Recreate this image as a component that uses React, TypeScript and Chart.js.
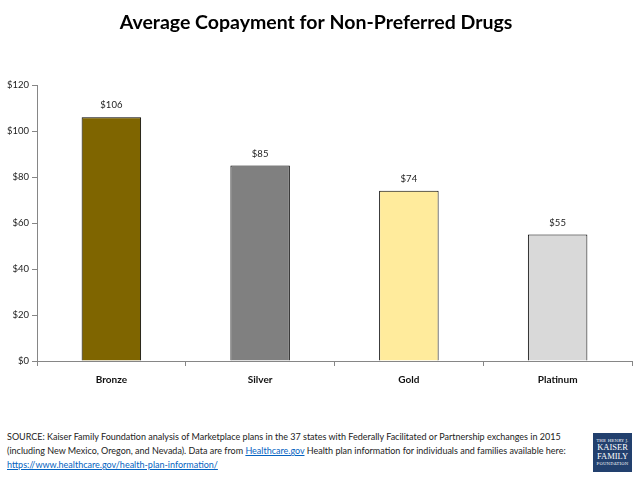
import React, { useEffect, useRef } from "react";
import { Chart, registerables } from "chart.js";

Chart.register(...registerables);

const categories = ["Bronze", "Silver", "Gold", "Platinum"];
const copayValues = [106, 85, 74, 55];
const barColors = ["#7F6500", "#808080", "#FFEB9C", "#D9D9D9"];
const yTicks = [0, 20, 40, 60, 80, 100, 120];
const titleText = "Average Copayment for Non-Preferred Drugs";

const FONT = "Lato, 'Open Sans', sans-serif";

const valueLabels = {
  id: "valueLabels",
  afterDatasetsDraw(chart: any) {
    const ctx = chart.ctx;
    const meta = chart.getDatasetMeta(0);
    ctx.save();
    ctx.font = `9.5px ${FONT}`;
    ctx.fillStyle = "#222";
    ctx.textAlign = "center";
    ctx.textBaseline = "middle";
    meta.data.forEach((bar: any, i: number) => {
      ctx.fillText("$" + copayValues[i], bar.x, bar.y - 12);
    });
    ctx.restore();
  },
};

export default function App() {
  const ref = useRef<HTMLCanvasElement | null>(null);
  useEffect(() => {
    if (!ref.current) return;
    const chart = new Chart(ref.current, {
      type: "bar",
      data: {
        labels: categories,
        datasets: [
          {
            data: copayValues,
            backgroundColor: barColors,
            borderColor: "#000",
            borderWidth: 1,
            categoryPercentage: 1,
            barPercentage: 0.4,
          },
        ],
      },
      options: {
        responsive: false,
        animation: false,
        layout: { padding: { left: 0, right: 6, top: 0, bottom: 0 } },
        plugins: {
          legend: { display: false },
          tooltip: { enabled: false },
          title: {
            display: true,
            text: titleText,
            color: "#000",
            font: { family: FONT, size: 19.5, weight: "bold" },
            padding: { top: 11, bottom: 50.6 },
          },
        },
        scales: {
          x: {
            afterFit: (s: any) => {
              s.height = 39;
            },
            grid: {
              display: true,
              drawOnChartArea: false,
              drawTicks: true,
              tickLength: 5,
              color: "#868686",
              offset: true,
            },
            border: { color: "#868686" },
            ticks: {
              color: "#111",
              padding: 8,
              font: { family: FONT, size: 10, weight: "bold" },
            },
          },
          y: {
            min: 0,
            max: 120,
            afterFit: (s: any) => {
              s.width = 37;
            },
            afterBuildTicks: (s: any) => {
              s.ticks = yTicks.map((v) => ({ value: v }));
            },
            grid: {
              display: true,
              drawOnChartArea: false,
              drawTicks: true,
              tickLength: 5,
              color: "#868686",
            },
            border: { color: "#868686" },
            ticks: {
              color: "#222",
              padding: 3,
              font: { family: FONT, size: 9.5 },
              callback: (v: any) => "$" + v,
            },
          },
        },
      },
      plugins: [valueLabels],
    });
    return () => chart.destroy();
  }, []);

  return (
    <div
      style={{
        position: "absolute",
        top: 0,
        left: 0,
        width: 638,
        height: 479,
        background: "#fff",
        overflow: "hidden",
        fontFamily: FONT,
      }}
    >
      <canvas ref={ref} width={638} height={400} style={{ display: "block" }} />
      <div
        style={{
          position: "absolute",
          left: 7,
          top: 430,
          fontSize: 9,
          lineHeight: "14px",
          color: "#222",
          width: 580,
          whiteSpace: "nowrap",
        }}
      >
        <div>
          SOURCE: Kaiser Family Foundation analysis of Marketplace plans in the 37 states with Federally Facilitated or Partnership exchanges in 2015
        </div>
        <div>
          (including New Mexico, Oregon, and Nevada). Data are from{" "}
          <span style={{ color: "#0563C1", textDecoration: "underline" }}>Healthcare.gov</span> Health plan information for individuals and families available here:
        </div>
        <div>
          <span style={{ color: "#0563C1", textDecoration: "underline" }}>
            https://www.healthcare.gov/health-plan-information/
          </span>
        </div>
      </div>
      <div
        style={{
          position: "absolute",
          left: 593,
          top: 433,
          width: 39,
          height: 39,
          background: "#22406E",
          color: "#fff",
          fontFamily: "'DejaVu Serif', 'Liberation Serif', serif",
          textAlign: "center",
          display: "flex",
          flexDirection: "column",
          justifyContent: "center",
          alignItems: "center",
        }}
      >
        <div style={{ fontSize: 4, lineHeight: "5px", letterSpacing: 0.2 }}>THE HENRY J.</div>
        <div style={{ fontSize: 8.5, lineHeight: "9px", fontFamily: "'Liberation Serif', serif" }}>KAISER</div>
        <div style={{ fontSize: 8.5, lineHeight: "9px", fontFamily: "'Liberation Serif', serif" }}>FAMILY</div>
        <div style={{ fontSize: 4, lineHeight: "6px", letterSpacing: 0.2 }}>FOUNDATION</div>
      </div>
    </div>
  );
}
